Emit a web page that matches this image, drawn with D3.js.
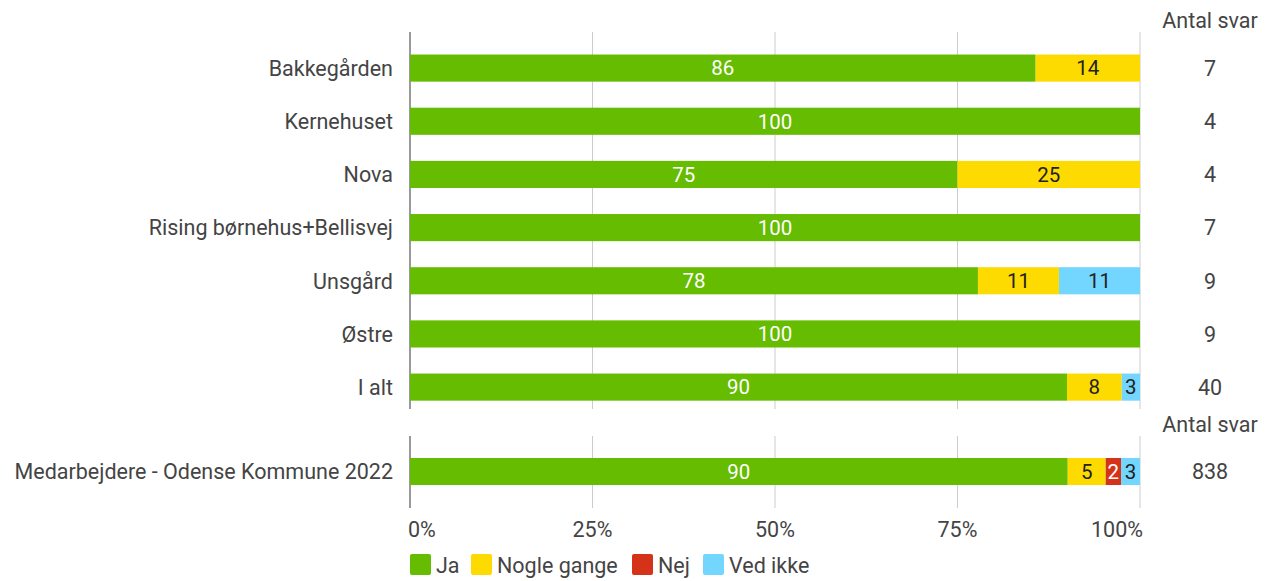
<!DOCTYPE html>
<html>
<head>
<meta charset="utf-8">
<script src="https://cdn.jsdelivr.net/npm/d3@7"></script>
<style>
  body { margin: 0; background: #fff; }
  svg { font-family: Roboto, "Noto Sans", sans-serif; }
</style>
</head>
<body>
<svg id="chart" width="1272" height="581"></svg>
<script>
// data
const categories = ["Bakkegården", "Kernehuset", "Nova", "Rising børnehus+Bellisvej", "Unsgård", "Østre", "I alt"];
const ja = [85.7, 100, 75, 100, 77.8, 100, 90];
const nogle = [14.3, 0, 25, 0, 11.1, 0, 7.5];
const nej = [0, 0, 0, 0, 0, 0, 0];
const vedIkke = [0, 0, 0, 0, 11.1, 0, 2.5];
const antal = [7, 4, 4, 7, 9, 9, 40];

const compCategories = ["Medarbejdere - Odense Kommune 2022"];
const compJa = [90.1];
const compNogle = [5.2];
const compNej = [2.1];
const compVedIkke = [2.6];
const compAntal = [838];

const seriesNames = ["Ja", "Nogle gange", "Nej", "Ved ikke"];
const seriesColors = ["#65bc00", "#fddb00", "#d5321a", "#73d6ff"];
const labelColors = ["#ffffff", "#222222", "#ffffff", "#222222"];
const ticks = [0, 25, 50, 75, 100];

const FS = 21.5;
const svg = d3.select("#chart");
const x = d3.scaleLinear().domain([0, 100]).range([410, 1140]);

function buildRows(cats, a, b, c, d, n) {
  return cats.map((name, i) => ({ name, vals: [a[i], b[i], c[i], d[i]], n: n[i] }));
}

function drawPanel(rows, yRange, gridTop, gridBottom, headerY) {
  const g = svg.append("g");
  const y = d3.scaleBand().domain(rows.map(r => r.name)).range(yRange).paddingInner(0.49).paddingOuter(0.245);

  // grid
  g.selectAll(".grid").data(ticks).join("line")
    .attr("x1", d => x(d)).attr("x2", d => x(d))
    .attr("y1", gridTop).attr("y2", gridBottom)
    .attr("stroke", d => d === 0 ? "#9a9a9a" : "#cccccc")
    .attr("stroke-width", d => d === 0 ? 2 : 1);

  rows.forEach(r => {
    let acc = 0;
    const segs = r.vals.map((v, k) => {
      const s = { k, v, x0: acc, x1: acc + v };
      acc += v;
      return s;
    }).filter(s => s.v > 0);

    const row = g.append("g");
    row.selectAll("rect").data(segs).join("rect")
      .attr("x", s => x(s.x0))
      .attr("width", s => x(s.x1) - x(s.x0))
      .attr("y", y(r.name))
      .attr("height", y.bandwidth())
      .attr("fill", s => seriesColors[s.k]);

    row.selectAll("text").data(segs).join("text")
      .attr("x", s => (x(s.x0) + x(s.x1)) / 2)
      .attr("y", y(r.name) + y.bandwidth() / 2)
      .attr("dy", "0.36em")
      .attr("text-anchor", "middle")
      .attr("font-size", 20.5)
      .attr("fill", s => labelColors[s.k])
      .text(s => d3.format(".0f")(s.v));

    // category label
    g.append("text")
      .attr("x", 393)
      .attr("y", y(r.name) + y.bandwidth() / 2)
      .attr("dy", "0.36em")
      .attr("text-anchor", "end")
      .attr("font-size", FS)
      .attr("fill", "#444")
      .text(r.name);

    // antal svar
    g.append("text")
      .attr("x", 1210)
      .attr("y", y(r.name) + y.bandwidth() / 2)
      .attr("dy", "0.36em")
      .attr("text-anchor", "middle")
      .attr("font-size", FS)
      .attr("fill", "#444")
      .text(r.n);
  });

  g.append("text")
    .attr("x", 1210).attr("y", headerY)
    .attr("dy", "0.36em")
    .attr("text-anchor", "middle")
    .attr("font-size", FS)
    .attr("fill", "#444")
    .text("Antal svar");
}

drawPanel(buildRows(categories, ja, nogle, nej, vedIkke, antal), [41.5, 413.7], 32, 409, 20);
drawPanel(buildRows(compCategories, compJa, compNogle, compNej, compVedIkke, compAntal), [445, 498], 436, 508, 424);

// x axis labels
svg.append("g").selectAll("text").data(ticks).join("text")
  .attr("x", d => d === 0 ? x(d) - 2 : d === 100 ? x(d) + 3 : x(d))
  .attr("y", 529)
  .attr("dy", "0.36em")
  .attr("text-anchor", d => d === 0 ? "start" : d === 100 ? "end" : "middle")
  .attr("font-size", FS)
  .attr("fill", "#444")
  .text(d => d + "%");

// legend
const legendX = [410, 471, 632, 703];
const legend = svg.append("g").selectAll("g").data(seriesNames).join("g")
  .attr("transform", (d, i) => `translate(${legendX[i]}, 554)`);
legend.append("rect")
  .attr("width", 21).attr("height", 21).attr("rx", 2)
  .attr("fill", (d, i) => seriesColors[i]);
legend.append("text")
  .attr("x", 26).attr("y", 11).attr("dy", "0.36em")
  .attr("font-size", FS)
  .attr("fill", "#444")
  .text(d => d);
</script>
</body>
</html>
